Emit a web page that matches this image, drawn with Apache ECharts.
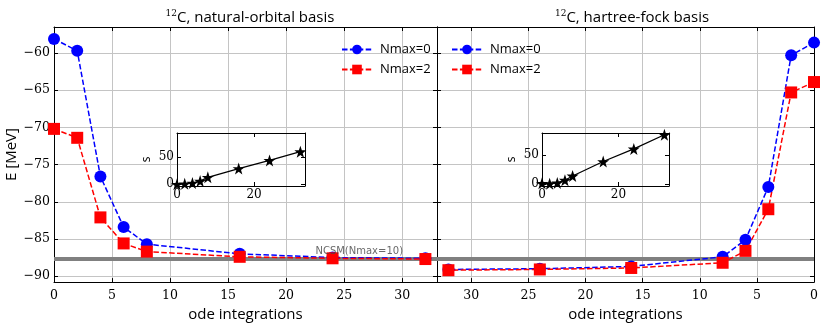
<!DOCTYPE html>
<html><head><meta charset="utf-8">
<script src="https://cdn.jsdelivr.net/npm/echarts@6/dist/echarts.min.js"></script>
<style>html,body{margin:0;padding:0;background:#fff}#c{width:821px;height:327px}</style>
</head><body><div id="c"></div>
<script>
// ---- data ----
const odeSteps = [0, 2, 4, 6, 8, 16, 24, 32];
const noNmax0 = [-58.1, -59.7, -76.6, -83.4, -85.7, -87.0, -87.5, -87.6];
const noNmax2 = [-70.2, -71.4, -82.1, -85.6, -86.7, -87.4, -87.6, -87.7];
const hfNmax0 = [-58.6, -60.3, -78.0, -85.1, -87.4, -88.7, -89.0, -89.1];
const hfNmax2 = [-63.9, -65.3, -81.0, -86.6, -88.2, -88.9, -89.1, -89.2];
const ncsmE = -87.67;
const noTime = [0, 1, 2.4, 6, 13, 29, 44, 60];
const hfTime = [1.5, 1, 2.3, 6.8, 14, 38.6, 60, 84];
const xTickVals = [0, 5, 10, 15, 20, 25, 30];
const yTickVals = [-90, -85, -80, -75, -70, -65, -60];
const insetXTicks = [0, 20];
const insetYTicks = [0, 50];
const titleSup = '12';
const titleTexts = ['C, natural-orbital basis', 'C, hartree-fock basis'];
const seriesNames = ['Nmax=0', 'Nmax=2'];
const ncsmLabel = 'NCSM(Nmax=10)';
const ncsmLabelX = 26.3;
const xName = 'ode integrations';
const yName = 'E [MeV]';
const insetYName = 's';

// ---- styles ----
const SERIF = "'DejaVu Serif', serif";
const SANS = 'Open Sans';
const pair = (xs, ys) => xs.map((x, i) => [x, ys[i]]);
const minus = v => String(v).replace('-', '\u2212');
const STAR = 'path://M50,0 L61.8,35.1 L98.1,35.1 L68.8,56.8 L79.4,91 L50,70 L20.6,91 L31.2,56.8 L1.9,35.1 L38.2,35.1 Z';

const grids = [
  {left: 54, top: 27, width: 383, height: 265},
  {left: 437, top: 27, width: 380, height: 265},
  {left: 177, top: 133, width: 128, height: 53},
  {left: 542, top: 133, width: 127, height: 53}
];
grids.forEach(g => { g.containLabel = false; });

function xAx(grid, pos, opts) {
  const main = pos === 'bottom';
  return Object.assign({
    type: 'value', gridIndex: grid, position: pos,
    axisLine: {show: true, onZero: false, lineStyle: {color: '#000', width: 1}},
    axisTick: {show: true, inside: true, length: 4, lineStyle: {color: '#000'}},
    axisLabel: {show: main, fontFamily: SERIF, fontSize: 12.5, color: '#000', margin: 7, formatter: minus},
    splitLine: {show: false}
  }, opts);
}
function yAx(grid, pos, opts) {
  const main = pos === 'left';
  return Object.assign({
    type: 'value', gridIndex: grid, position: pos,
    axisLine: {show: true, onZero: false, lineStyle: {color: '#000', width: 1}},
    axisTick: {show: true, inside: true, length: 4, lineStyle: {color: '#000'}},
    axisLabel: {show: main, fontFamily: SERIF, fontSize: 12.5, color: '#000', margin: 4, formatter: minus},
    splitLine: {show: false}
  }, opts);
}
const mainX = {min: 0, max: 33};
const mainY = {min: -90.8, max: -56.5};
function withTicks(ax, vals, showLabel, split) {
  ax.axisTick.customValues = vals;
  ax.axisLabel.customValues = vals;
  if (split) ax.splitLine = {show: true, lineStyle: {color: '#c4c4c4', width: 1}};
  return ax;
}
const nameStyle = {fontFamily: SANS, fontSize: 15, color: '#000'};

const xAxes = [
  withTicks(xAx(0, 'bottom', Object.assign({name: xName, nameLocation: 'middle', nameGap: 24, nameTextStyle: nameStyle}, mainX)), xTickVals, true, true),
  withTicks(xAx(0, 'top', mainX), xTickVals, false, false),
  withTicks(xAx(1, 'bottom', Object.assign({inverse: true, name: xName, nameLocation: 'middle', nameGap: 24, nameTextStyle: nameStyle}, mainX)), xTickVals, true, true),
  withTicks(xAx(1, 'top', Object.assign({inverse: true}, mainX)), xTickVals, false, false),
  withTicks(xAx(2, 'bottom', {min: 0, max: 33.2}), insetXTicks, true, false),
  withTicks(xAx(2, 'top', {min: 0, max: 33.2}), insetXTicks, false, false),
  withTicks(xAx(3, 'bottom', {min: 0, max: 33.2}), insetXTicks, true, false),
  withTicks(xAx(3, 'top', {min: 0, max: 33.2}), insetXTicks, false, false)
];
xAxes.slice(4).forEach(a => { a.axisLabel.fontSize = 12; a.axisLabel.margin = 3; });

const yAxes = [
  withTicks(yAx(0, 'left', Object.assign({name: yName, nameLocation: 'middle', nameGap: 34, nameRotate: 90, nameTextStyle: nameStyle}, mainY)), yTickVals, true, true),
  withTicks(yAx(0, 'right', mainY), yTickVals, false, false),
  withTicks(yAx(1, 'left', Object.assign({}, mainY)), yTickVals, false, true),
  withTicks(yAx(1, 'right', mainY), yTickVals, false, false),
  withTicks(yAx(2, 'left', {min: -3, max: 94.4, name: insetYName, nameLocation: 'middle', nameGap: 24, nameRotate: 90, nameTextStyle: {fontFamily: SANS, fontSize: 12, color: '#000'}}), insetYTicks, true, false),
  withTicks(yAx(2, 'right', {min: -3, max: 94.4}), insetYTicks, false, false),
  withTicks(yAx(3, 'left', {min: -3, max: 87, name: insetYName, nameLocation: 'middle', nameGap: 24, nameRotate: 90, nameTextStyle: {fontFamily: SANS, fontSize: 12, color: '#000'}}), insetYTicks, true, false),
  withTicks(yAx(3, 'right', {min: -3, max: 87}), insetYTicks, false, false)
];
yAxes[2].axisLabel.show = false;
yAxes.slice(4).forEach(a => { a.axisLabel.fontSize = 12; a.axisLabel.margin = 3; });

const dash = [5.5, 2.4];
function eSeries(name, xi, yi, ys, color, symbol, size, withNcsm) {
  const s = {
    type: 'line', name: name, xAxisIndex: xi, yAxisIndex: yi,
    data: pair(odeSteps, ys), symbol: symbol, symbolSize: size, showSymbol: true,
    itemStyle: {color: color}, lineStyle: {color: color, width: 1.5, type: dash},
    z: 10, clip: true, animation: false
  };
  if (withNcsm) {
    s.markLine = {
      silent: true, symbol: ['none', 'none'], animation: false,
      lineStyle: {color: '#808080', width: 4, type: 'solid'},
      label: {show: false}, data: [{yAxis: ncsmE}], z: 3
    };
  }
  return s;
}
function tSeries(xi, yi, ys) {
  return {
    type: 'line', name: 'time' + xi, xAxisIndex: xi, yAxisIndex: yi,
    data: pair(odeSteps, ys), symbol: STAR, symbolSize: 12,
    itemStyle: {color: '#000'}, lineStyle: {color: '#000', width: 1.3},
    z: 30, clip: false, animation: false
  };
}

const series = [
  eSeries(seriesNames[0], 0, 0, noNmax0, '#0000ff', 'circle', 12, true),
  eSeries(seriesNames[1], 0, 0, noNmax2, '#ff0000', 'rect', 12, false),
  eSeries(seriesNames[0], 2, 2, hfNmax0, '#0000ff', 'circle', 12, true),
  eSeries(seriesNames[1], 2, 2, hfNmax2, '#ff0000', 'rect', 12, false),
  {
    type: 'scatter', name: 'ncsm', xAxisIndex: 0, yAxisIndex: 0,
    data: [[ncsmLabelX, ncsmE]], symbolSize: 0, z: 12, silent: true,
    label: {show: true, position: 'top', distance: 2, formatter: ncsmLabel,
      fontFamily: 'DejaVu Sans', fontSize: 10, color: '#444'}
  },
  tSeries(4, 4, noTime),
  tSeries(6, 6, hfTime)
];

const legendBase = {
  orient: 'vertical', top: 38, itemWidth: 30, itemHeight: 12, itemGap: 7,
  data: seriesNames, selectedMode: false,
  textStyle: {fontFamily: SANS, fontSize: 13, color: '#000', padding: [0, 0, 0, 3]}
};

const titleRich = {
  sup: {fontFamily: SERIF, fontSize: 9, fontWeight: 'normal', color: '#000', verticalAlign: 'top', lineHeight: 18},
  t: {fontFamily: SANS, fontSize: 15, fontWeight: 'normal', color: '#000', lineHeight: 18}
};

const option = {
  backgroundColor: '#fff',
  animation: false,
  title: [
    {text: '{sup|' + titleSup + '}{t|' + titleTexts[0] + '}', left: 245, top: 4, textAlign: 'center', textStyle: {fontWeight: 'normal', rich: titleRich}},
    {text: '{sup|' + titleSup + '}{t|' + titleTexts[1] + '}', left: 627, top: 4, textAlign: 'center', textStyle: {fontWeight: 'normal', rich: titleRich}}
  ],
  grid: grids.map((g, i) => Object.assign({show: i >= 2, backgroundColor: '#fff', borderWidth: 0}, g)),
  legend: [
    Object.assign({left: 336}, legendBase),
    Object.assign({left: 446}, legendBase)
  ],
  xAxis: xAxes,
  yAxis: yAxes,
  series: series
};
const chart = echarts.init(document.getElementById('c'), null, {renderer: 'canvas'});
chart.setOption(option);
</script></body></html>
